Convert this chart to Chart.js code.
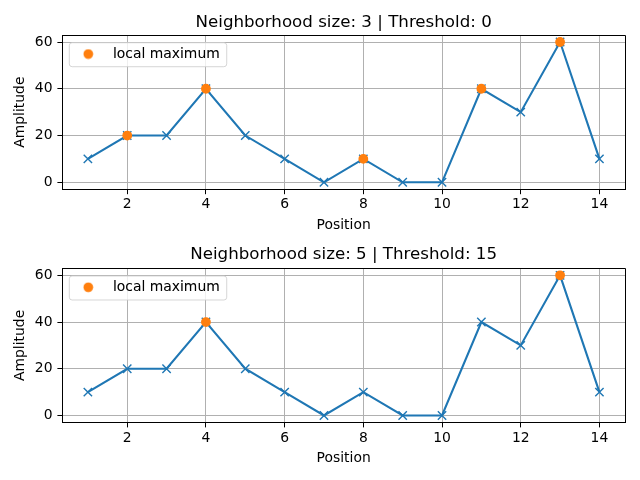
<!DOCTYPE html>
<html>
<head>
<meta charset="utf-8">
<script src="https://cdn.jsdelivr.net/npm/chart.js@4.4.1/dist/chart.umd.min.js"></script>
<style>
    html, body { margin: 0; padding: 0; background: #fff; }
    .panel { width: 640px; height: 240px; }
</style>
</head>
<body>
<div class="panel"><canvas id="topChart" width="640" height="240"></canvas></div>
<div class="panel"><canvas id="bottomChart" width="640" height="240"></canvas></div>
<script>
/*****************************************************************************/
/* Data */
/*****************************************************************************/
var positions = [1, 2, 3, 4, 5, 6, 7, 8, 9, 10, 11, 12, 13, 14];
var amplitude = [10, 20, 20, 40, 20, 10, 0, 10, 0, 0, 40, 30, 60, 10];
var peaksTop = [2, 4, 8, 11, 13];
var peaksBottom = [4, 13];
var xTicks = [2, 4, 6, 8, 10, 12, 14];
var yTicks = [0, 20, 40, 60];
var titleTop = 'Neighborhood size: 3 | Threshold: 0';
var titleBottom = 'Neighborhood size: 5 | Threshold: 15';

/*****************************************************************************/
/* Styles */
/*****************************************************************************/
var BLUE = '#1f77b4';
var ORANGE = '#ff7f0e';
var GRID = '#b0b0b0';

Chart.defaults.font.family = "'DejaVu Sans', sans-serif";
Chart.defaults.color = '#000';

// small orange dot used as legend marker
var legendDot = document.createElement('canvas');
legendDot.width = 11;
legendDot.height = 11;
var g = legendDot.getContext('2d');
g.fillStyle = ORANGE;
g.beginPath();
g.arc(5.5, 5.5, 4.8, 0, 2 * Math.PI);
g.fill();

function align(px) {
    return Math.round(px - 0.5) + 0.5;
}

// top/right spines + the matplotlib style legend frame
var framePlugin = {
    id: 'axesFrame',
    afterLayout: function (chart) {
        // a 'chartArea' legend gets top = 0, move it into the plot
        var lg = chart.legend;
        var dy = chart.chartArea.top - lg.top;
        lg.top += dy;
        lg.bottom += dy;
        lg.legendHitBoxes.forEach(function (h) { h.top += dy; });
    },
    afterDatasetsDraw: function (chart) {
        var ctx = chart.ctx;
        var a = chart.chartArea;
        var hit = chart.legend.legendHitBoxes[0];
        if (hit) {
            var x0 = a.left + 7, y0 = a.top + 7.7;
            var w = hit.left + hit.width + 7 - x0, h = 24, r = 2.8;
            ctx.save();
            ctx.beginPath();
            ctx.roundRect(x0, y0, w, h, r);
            ctx.fillStyle = 'rgba(255,255,255,0.8)';
            ctx.fill();
            ctx.lineWidth = 1;
            ctx.strokeStyle = 'rgba(204,204,204,0.8)';
            ctx.stroke();
            ctx.restore();
            chart.legend.draw();
        }
        ctx.save();
        ctx.strokeStyle = '#000';
        ctx.lineWidth = 1;
        ctx.beginPath();
        ctx.moveTo(align(a.left), align(a.top));
        ctx.lineTo(align(a.right), align(a.top));
        ctx.lineTo(align(a.right), align(a.bottom));
        ctx.stroke();
        ctx.restore();
    }
};

/*****************************************************************************/
/* Chart builder */
/*****************************************************************************/
function drawChart(id, titleText, peaks, box) {
    var lineData = positions.map(function (p, i) { return {x: p, y: amplitude[i]}; });
    var peakData = peaks.map(function (p) { return {x: p, y: amplitude[positions.indexOf(p)]}; });

    var axisFont = {size: 13.9};
    var gridOpts = {color: GRID, lineWidth: 1, tickColor: '#000', tickLength: 4.9, tickWidth: 1};

    return new Chart(document.getElementById(id).getContext('2d'), {
        type: 'scatter',
        data: {
            datasets: [
                {
                    label: 'signal',
                    data: lineData,
                    showLine: true,
                    borderColor: BLUE,
                    backgroundColor: BLUE,
                    borderWidth: 2.1,
                    pointStyle: 'crossRot',
                    pointRadius: 5.9,
                    pointBorderWidth: 1.4,
                    order: 2
                },
                {
                    label: 'local maximum',
                    data: peakData,
                    showLine: false,
                    borderColor: ORANGE,
                    backgroundColor: ORANGE,
                    pointStyle: 'circle',
                    pointRadius: 4.2,
                    pointBorderWidth: 1.4,
                    order: 1
                }
            ]
        },
        options: {
            responsive: false,
            animation: false,
            events: [],
            layout: {padding: {left: 0, right: 15, top: 0, bottom: 0}},
            scales: {
                x: {
                    type: 'linear',
                    min: 0.35,
                    max: 14.65,
                    afterBuildTicks: function (axis) {
                        axis.ticks = xTicks.map(function (v) { return {value: v}; });
                    },
                    afterFit: function (axis) { axis.height = box.xHeight; },
                    ticks: {font: axisFont, padding: 2.2, maxRotation: 0, autoSkip: false},
                    grid: gridOpts,
                    border: {color: '#000', width: 1},
                    title: {display: true, text: 'Position', font: axisFont, padding: {top: 0, bottom: box.xTitlePad}}
                },
                y: {
                    min: -3,
                    max: 63,
                    afterBuildTicks: function (axis) {
                        axis.ticks = yTicks.map(function (v) { return {value: v}; });
                    },
                    afterFit: function (axis) { axis.width = 62.3; },
                    ticks: {font: axisFont, padding: 4.9},
                    grid: gridOpts,
                    border: {color: '#000', width: 1},
                    title: {display: true, text: 'Amplitude', font: axisFont, padding: {top: 12.4, bottom: 0}}
                }
            },
            plugins: {
                tooltip: {enabled: false},
                title: {
                    display: true,
                    text: titleText,
                    fullSize: false,
                    font: {size: 16.67, weight: 'normal'},
                    padding: {top: box.titleTop, bottom: box.titleBottom}
                },
                legend: {
                    position: 'chartArea',
                    align: 'start',
                    title: {display: true, text: '', font: {size: 1, lineHeight: 1}, padding: {top: 2.75, bottom: 0}},
                    labels: {
                        filter: function (item) { return item.datasetIndex === 1; },
                        usePointStyle: true,
                        pointStyle: legendDot,
                        pointStyleWidth: 35.4,
                        padding: 8.3,
                        font: {size: 13.9}
                    }
                }
            }
        },
        plugins: [framePlugin]
    });
}

drawChart('topChart', titleTop, peaksTop, {titleTop: 12.3, titleBottom: 2.7, xHeight: 50.7, xTitlePad: 6.6});
drawChart('bottomChart', titleBottom, peaksBottom, {titleTop: 4.8, titleBottom: 3.5, xHeight: 57.5, xTitlePad: 13.4});
</script>
</body>
</html>
